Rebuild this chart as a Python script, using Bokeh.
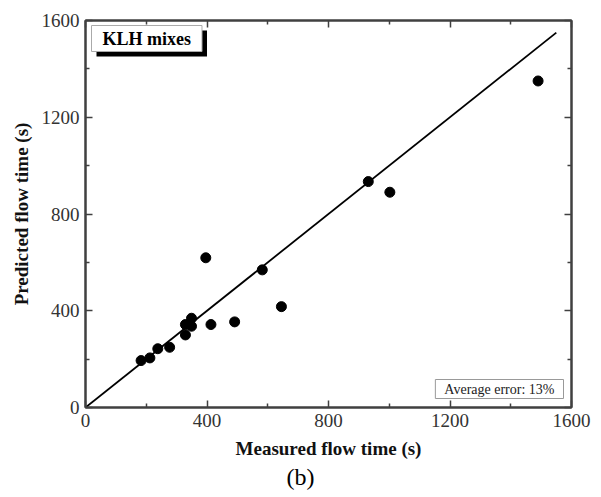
from bokeh.plotting import figure
from bokeh.models import FixedTicker, LinearAxis, Label, Range1d, Title
from bokeh.embed import file_html
from bokeh.resources import INLINE

# Data
measured = [183, 212, 238, 277, 329, 329, 349, 349, 396, 413, 491, 582, 645, 931, 1002, 1490]
predicted = [194, 205, 243, 249, 300, 343, 369, 336, 619, 343, 354, 569, 417, 934, 890, 1350]
line_x = [0, 1550]
line_y = [0, 1550]
major_ticks = [0, 400, 800, 1200, 1600]
minor_ticks = [200, 600, 1000, 1400]

FONT = "Liberation Serif"
AX = "#404040"

p = figure(width=601, height=497, x_range=Range1d(0, 1600), y_range=Range1d(0, 1600),
           output_backend="svg", toolbar_location=None,
           min_border_left=85, min_border_right=30, min_border_top=20, min_border_bottom=90)
p.grid.visible = False
p.outline_line_color = AX
p.outline_line_width = 2
p.background_fill_color = "white"
p.border_fill_color = "white"

ticker = FixedTicker(ticks=major_ticks, minor_ticks=minor_ticks)

for ax in (p.xaxis[0], p.yaxis[0]):
    ax.ticker = ticker
    ax.axis_line_color = AX
    ax.axis_line_width = 2
    ax.major_tick_in = 7
    ax.major_tick_out = 0
    ax.minor_tick_in = 4
    ax.minor_tick_out = 0
    ax.major_tick_line_color = AX
    ax.minor_tick_line_color = AX
    ax.major_tick_line_width = 1.5
    ax.minor_tick_line_width = 1.5
    ax.major_label_text_font = FONT
    ax.major_label_text_font_size = "19px"
    ax.major_label_text_color = "#333333"
    ax.major_label_standoff = 6
    ax.axis_label_text_font = FONT
    ax.axis_label_text_font_size = "19px"
    ax.axis_label_text_font_style = "bold"
    ax.axis_label_text_color = "#111111"

p.xaxis[0].axis_label = "Measured flow time (s)"
p.yaxis[0].axis_label = "Predicted flow time (s)"
p.xaxis[0].axis_label_standoff = 8
p.yaxis[0].axis_label_standoff = 7

for loc in ("above", "right"):
    a = LinearAxis(ticker=ticker, major_label_text_font_size="1px",
                   major_label_text_color=None,
                   axis_line_color=AX, axis_line_width=2,
                   major_tick_in=7, major_tick_out=0, minor_tick_in=4, minor_tick_out=0,
                   major_tick_line_color=AX, minor_tick_line_color=AX,
                   major_tick_line_width=1.5, minor_tick_line_width=1.5,
                   major_label_standoff=0)
    p.add_layout(a, loc)

p.line(line_x, line_y, line_color="black", line_width=1.8)
p.scatter(measured, predicted, size=10, color="black")

frame_h = 387
shadow = Label(x=11, y=frame_h - 10, x_units="screen", y_units="screen", anchor="top_left",
               text="KLH mixes", text_font=FONT, text_font_style="bold", text_font_size="18px",
               text_color="black", background_fill_color="black",
               padding=dict(left=11, right=11, top=3, bottom=3))
box = Label(x=6, y=frame_h - 5, x_units="screen", y_units="screen", anchor="top_left",
            text="KLH mixes", text_font=FONT, text_font_style="bold", text_font_size="18px",
            text_color="black", background_fill_color="white",
            border_line_color="#aaaaaa", border_line_width=1,
            padding=dict(left=11, right=11, top=3, bottom=3))
p.add_layout(shadow)
p.add_layout(box)

err = Label(x=478, y=9, x_units="screen", y_units="screen", anchor="bottom_right",
            text="Average error: 13%", text_font=FONT, text_font_size="14px",
            text_color="#222222", background_fill_color="white",
            border_line_color="#999999", border_line_width=1,
            padding=dict(left=9, right=9, top=2, bottom=2))
p.add_layout(err)

cap = Title(text="(b)", align="left", offset=201, text_font=FONT, text_font_size="24px",
            text_font_style="normal", text_color="black", standoff=0)
p.add_layout(cap, "below")

open("out.html", "w").write(file_html(p, INLINE))
